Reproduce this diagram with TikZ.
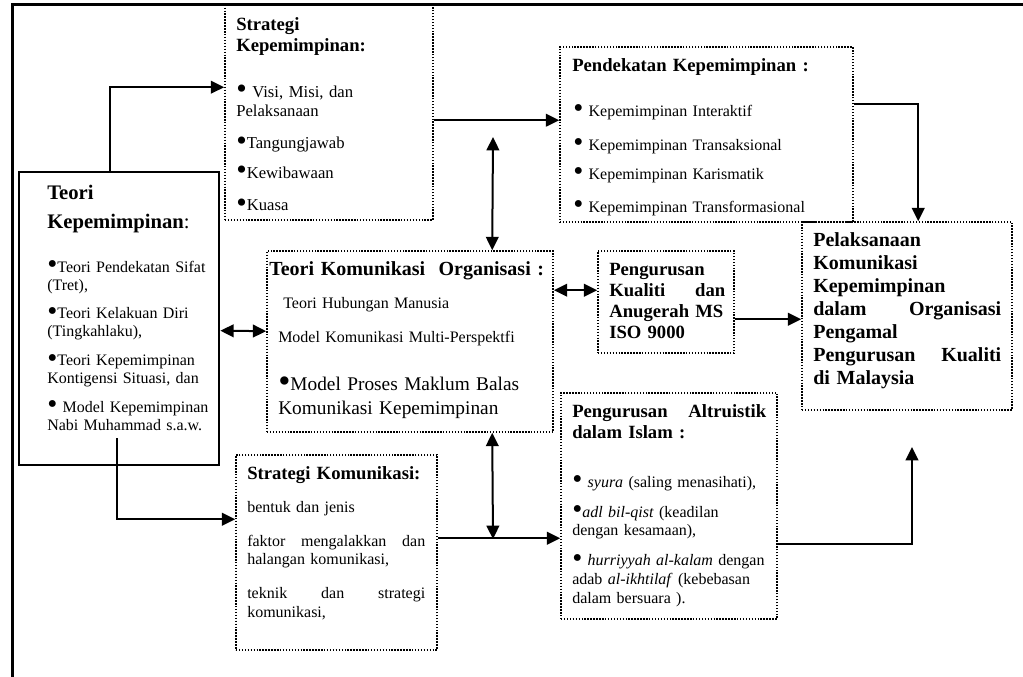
\documentclass[tikz,border=0pt]{standalone}
\usepackage{fontspec}
\usepackage{graphicx}
\setmainfont{Liberation Serif}
\usetikzlibrary{arrows.meta,fit,calc}
\newcommand\bul{\smash{\raisebox{-0.1em}{\scalebox{1.8}{\textbullet}}}}
\newcommand\tp{\rule{0pt}{0.75em}}
\begin{document}
\begin{tikzpicture}[x=0.75pt,y=-0.75pt,
  dotbox/.style={draw, line width=1.2pt, dash pattern=on 1.1pt off 1.1pt, inner sep=0pt},
  solidbox/.style={draw, line width=2pt, inner sep=0pt},
  frameline/.style={line width=2.25pt},
  conn/.style={line width=1.5pt},
  arr/.style={conn,-{Triangle[length=10pt,width=9.5pt]}},
  darr/.style={conn,{Triangle[length=10pt,width=9.5pt]}-{Triangle[length=10pt,width=9.5pt]}},
  txt/.style={anchor=north west, inner sep=0pt, align=left},
  hd/.style={txt, font=\fontsize{14}{15.75}\selectfont\bfseries},
  hdl/.style={txt, font=\fontsize{15}{17.25}\selectfont\bfseries},
  bd/.style={txt, font=\fontsize{12}{14}\selectfont},
]
\useasboundingbox (0,0) rectangle (1023,677);
% outer frame
\draw[frameline] (1023,5) -- (12,5) -- (12,677);

% boxes
\node[solidbox, fit={(19,172) (219,465)}] (tk) {};
\node[dotbox, fit={(225,5) (433,220)}] (sk) {};
\node[dotbox, fit={(560,47) (853,222)}] (pk) {};
\node[dotbox, fit={(267,251) (553,432)}] (tko) {};
\node[dotbox, fit={(598,251) (734,353)}] (pq) {};
\node[dotbox, fit={(802,222) (1012,410)}] (pl) {};
\node[dotbox, fit={(236,455) (437,650)}] (sko) {};
\node[dotbox, fit={(561,393) (777,619)}] (pa) {};

% texts
\node[hd, text width=150pt] (skh) at (236,16) {\tp Strategi\\Kepemimpinan:};
\node[txt, text width=150pt, font=\fontsize{12.5}{14.25}\selectfont] (skb) at (236,84.5)
  {\tp\bul\ Visi, Misi, dan\\Pelaksanaan\\[10pt]\bul Tangungjawab\\[8pt]\bul Kewibawaan\\[10pt]\bul Kuasa};

\node[hd, text width=210pt] (pkh) at (572,57) {\tp Pendekatan Kepemimpinan :};
\node[bd, text width=210pt] (pkb) at (573,104)
  {\tp\bul\ Kepemimpinan Interaktif\\[11.5pt]\bul\ Kepemimpinan Transaksional\\[7.75pt]\bul\ Kepemimpinan Karismatik\\[10.75pt]\bul\ Kepemimpinan Transformasional};

\node[txt, text width=135pt, font=\fontsize{15.5}{21.75}\selectfont\bfseries] (tkh) at (47,183.5) {\tp Teori\\Kepemimpinan\textmd{:}};
\node[txt, text width=135pt, font=\fontsize{12}{13.5}\selectfont] (tkb) at (47,260)
  {\tp\bul Teori Pendekatan Sifat\\(Tret),\\[8pt]\bul Teori Kelakuan Diri\\(Tingkahlaku),\\[8pt]\bul Teori Kepemimpinan\\Kontigensi Situasi, dan\\[8pt]\bul\ Model Kepemimpinan\\Nabi Muhammad s.a.w.};

\node[hdl, text width=215pt] (tkoh) at (269,260) {\tp Teori Komunikasi\ \ Organisasi :};
\node[bd, text width=205pt] (tkob) at (278,296)
  {\tp\hspace*{3.75pt}Teori Hubungan Manusia\\[11.5pt]Model Komunikasi Multi-Perspektfi};
\node[txt, text width=205pt, font=\fontsize{14.5}{18}\selectfont] (tkoc) at (278,375.5)
  {\tp\bul Model Proses Maklum Balas\\Komunikasi Kepemimpinan};

\node[hd, text width=87pt] (pqt) at (609,261)
  {\tp Pengurusan\\Kualiti\hfill dan\\Anugerah MS\\ISO 9000};

\node[hdl, text width=141pt] (plt) at (813,231)
  {\tp Pelaksanaan\\Komunikasi\\Kepemimpinan\\dalam\hfill Organisasi\\Pengamal\\Pengurusan\hfill Kualiti\\di Malaysia};

\node[hd, text width=140pt] (skoh) at (247,465) {\tp Strategi Komunikasi:};
\node[bd, text width=133.5pt] (skob) at (247,500)
  {\tp bentuk dan jenis\\[11.5pt]faktor\hfill mengalakkan\hfill dan\\halangan komunikasi,\\[11.5pt]teknik\hfill dan\hfill strategi\\komunikasi,};

\node[hd, text width=145.5pt] (pah) at (572,403) {\tp Pengurusan\hfill Altruistik\\dalam Islam :};
\node[bd, text width=150pt] (pab) at (572,475)
  {\tp\bul\ \textit{syura} (saling menasihati),\\[8.5pt]\bul\textit{adl bil-qist} (keadilan\\dengan kesamaan),\\[8.5pt]\bul\ \textit{hurriyyah al-kalam} dengan\\adab \textit{al-ikhtilaf} (kebebasan\\dalam bersuara ).};

% free ends
\coordinate (c1) at (493,137);
\coordinate (c2) at (117,438);
\coordinate (c3) at (493,539);
\coordinate (c4) at (912,447);

% connectors
\draw[arr] ($(tk.north west)+(92,0)$) |- ($(sk.north west)+(0,83)$);
\draw[arr] ($(sk.north east)+(0,116)$) -- ($(pk.north west)+(0,74)$);
\draw[darr] (c1) -- ($(tko.north west)+(226,0)$);
\draw[arr] ($(pk.north east)+(0,58)$) -| ($(pl.north west)+(117,0)$);
\draw[darr] ($(tk.north east)+(0,160)$) -- ($(tko.north west)+(0,81)$);
\draw[darr] ($(tko.north east)+(0,40)$) -- ($(pq.north west)+(0,40)$);
\draw[arr] ($(pq.north east)+(0,69)$) -- ($(pl.north west)+(0,98)$);
\draw[arr] (c2) |- ($(sko.north west)+(0,65)$);
\draw[arr] ($(sko.north east)+(0,84)$) -- ($(pa.north west)+(0,146)$);
\draw[darr] ($(tko.south west)+(226,0)$) -- (c3);
\draw[arr] ($(pa.north east)+(0,152)$) -| (c4);
\end{tikzpicture}
\end{document}
